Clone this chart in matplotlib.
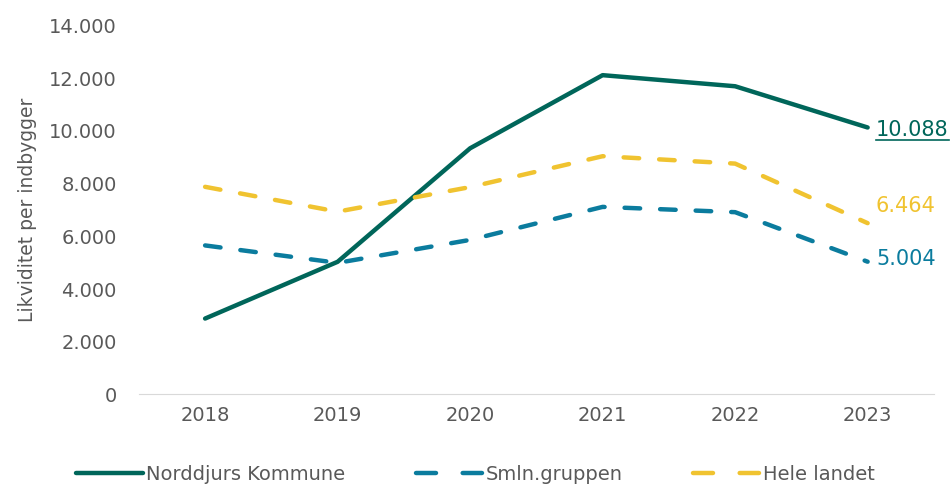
import matplotlib
matplotlib.use("Agg")
import matplotlib.pyplot as plt
from matplotlib.lines import Line2D
from matplotlib.ticker import FuncFormatter


years = ["2018", "2019", "2020", "2021", "2022", "2023"]
norddjurs = [2850, 5000, 9300, 12070, 11650, 10088]
smln = [5620, 4960, 5830, 7080, 6880, 5004]
hele = [7840, 6900, 7830, 9000, 8720, 6464]

GREEN = "#00665A"
BLUE = "#0B7C9E"
YELLOW = "#F0C330"
GREY = "#595959"

plt.rcParams["font.family"] = ["DejaVu Sans"]


def fmt(v, pos=None):
    return f"{int(v):,}".replace(",", ".")


fig = plt.figure(figsize=(9.51, 4.85), dpi=100)
ax = fig.add_axes([0.146, 0.186, 0.836, 0.762])

x = range(len(years))
ax.plot(x, norddjurs, color=GREEN, lw=3.2, solid_capstyle="round")
ax.plot(x, smln, color=BLUE, lw=3.2, dashes=(3.5, 4.5), dash_capstyle="round")
ax.plot(x, hele, color=YELLOW, lw=3.2, dashes=(3.5, 4.5), dash_capstyle="round")

ax.set_xlim(-0.5, len(years) - 0.5)
ax.set_ylim(0, 14000)
ax.set_yticks(range(0, 14001, 2000))
ax.yaxis.set_major_formatter(FuncFormatter(fmt))
ax.set_xticks(list(x))
ax.set_xticklabels(years)
ax.tick_params(length=0, labelsize=14, colors=GREY, pad=8)
ax.tick_params(axis="y", pad=16)
for s in ["top", "right", "left"]:
    ax.spines[s].set_visible(False)
ax.spines["bottom"].set_color("#D9D9D9")
ax.set_ylabel("Likviditet per indbygger", fontsize=13.5, color=GREY)
ax.yaxis.set_label_coords(-0.128, 0.5)

last = len(years) - 1
t1 = ax.annotate(fmt(norddjurs[-1]), (last, norddjurs[-1]), xytext=(6, -1),
                 textcoords="offset points", color=GREEN, fontsize=15,
                 va="center", ha="left")
ax.annotate(fmt(hele[-1]), (last, hele[-1]), xytext=(6, 13),
            textcoords="offset points", color=YELLOW, fontsize=15,
            va="center", ha="left")
ax.annotate(fmt(smln[-1]), (last, smln[-1]), xytext=(6, 3),
            textcoords="offset points", color=BLUE, fontsize=15,
            va="center", ha="left")

# legend handles drawn so the dashed ones show exactly two dashes
handles = [
    Line2D([], [], color=GREEN, lw=3.2, solid_capstyle="round"),
    Line2D([], [], color=BLUE, lw=3.2, dashes=(4.5, 6), dash_capstyle="round"),
    Line2D([], [], color=YELLOW, lw=3.2, dashes=(4.5, 6), dash_capstyle="round"),
]
labels = ["Norddjurs Kommune", "Smln.gruppen", "Hele landet"]
fig.legend(handles, labels, loc="lower center", bbox_to_anchor=(0.5, -0.035),
           ncol=3, frameon=False, fontsize=14, handlelength=3.4,
           columnspacing=3.6, handletextpad=0.2, labelcolor=GREY)

# underline the Norddjurs end label
fig.canvas.draw()
bb = t1.get_window_extent(fig.canvas.get_renderer())
W, H = fig.bbox.width, fig.bbox.height
fig.add_artist(Line2D([bb.x0 / W, bb.x1 / W], [(bb.y0 - 1) / H, (bb.y0 - 1) / H],
                      color=GREEN, lw=1.2))

fig.savefig("out.png", dpi=100)
